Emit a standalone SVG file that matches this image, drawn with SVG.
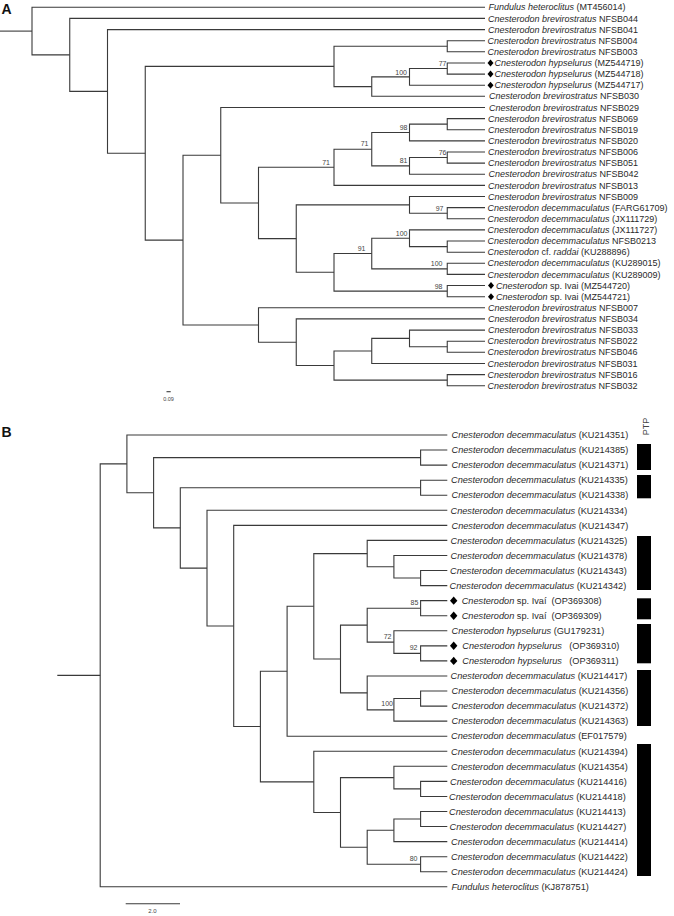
<svg xmlns="http://www.w3.org/2000/svg" width="674" height="916" viewBox="0 0 674 916">
<style>
.br{fill:none;stroke:#3a3a3a;stroke-width:1.1}
.lf{font-family:"Liberation Sans",Arial,sans-serif;font-size:9px;fill:#2a2a2a}
.lfb{font-family:"Liberation Sans",Arial,sans-serif;font-size:9.2px;fill:#2a2a2a}
.it{font-style:italic}
.bs{font-family:"Liberation Sans",Arial,sans-serif;font-size:7px;fill:#444;text-anchor:end}
.pl{font-family:"Liberation Sans",Arial,sans-serif;font-size:14px;font-weight:bold;fill:#111}
.dm{fill:#000}
.bar{fill:#000}
.sc{font-family:"Liberation Sans",Arial,sans-serif;fill:#444;text-anchor:middle}
</style>
<rect width="674" height="916" fill="#fff"/>
<text class="pl" x="1.5" y="13.5">A</text>
<text class="pl" x="1.5" y="436.5">B</text>

<g id="connectors">
<g id="connectors-A">
<path class="br" d="M0 31.1H32"/>
<path class="br" d="M485 7.3H32V54.9H69.75"/>
<path class="br" d="M485 18.4H69.75V91.4H107.5"/>
<path class="br" d="M485 29.6H107.5V153.25H145.25"/>
<path class="br" d="M334 66.4H145.25V240.1H183"/>
<path class="br" d="M447.25 46.25H334V86.6H371.75"/>
<path class="br" d="M485 40.7H447.25V51.8H485"/>
<path class="br" d="M409.5 76.85H371.75V96.3H485"/>
<path class="br" d="M447.25 68.5H409.5V85.2H485"/>
<path class="br" d="M485 63H447.25V74.1H485"/>
<path class="br" d="M220.75 155.2H183V325H258.5"/>
<path class="br" d="M485 107.5H220.75V202.95H258.5"/>
<path class="br" d="M334 167.3H258.5V238.6H296.25"/>
<path class="br" d="M371.75 149.2H334V185.4H485"/>
<path class="br" d="M409.5 132.5H371.75V165.9H409.5"/>
<path class="br" d="M447.25 124.15H409.5V140.9H485"/>
<path class="br" d="M485 118.6H447.25V129.7H485"/>
<path class="br" d="M447.25 157.55H409.5V174.25H485"/>
<path class="br" d="M485 152H447.25V163.1H485"/>
<path class="br" d="M409.5 204.85H296.25V272.3H334"/>
<path class="br" d="M485 196.5H409.5V213.2H447.25"/>
<path class="br" d="M485 207.6H447.25V218.8H485"/>
<path class="br" d="M371.75 253.55H334V291.1H447.25"/>
<path class="br" d="M409.5 238.25H371.75V268.85H447.25"/>
<path class="br" d="M485 229.9H409.5V246.6H447.25"/>
<path class="br" d="M485 241H447.25V252.2H485"/>
<path class="br" d="M485 263.3H447.25V274.4H485"/>
<path class="br" d="M485 285.55H447.25V296.7H485"/>
<path class="br" d="M485 307.8H258.5V342.2H296.25"/>
<path class="br" d="M485 318.9H296.25V365.55H334"/>
<path class="br" d="M371.75 350.95H334V380.15H447.25"/>
<path class="br" d="M409.5 338.4H371.75V363.5H485"/>
<path class="br" d="M485 330.1H409.5V346.75H447.25"/>
<path class="br" d="M485 341.2H447.25V352.3H485"/>
<path class="br" d="M485 374.6H447.25V385.7H485"/>
</g>
<g id="connectors-B">
<path class="br" d="M57.3 675.35H100.2"/>
<path class="br" d="M126.9 463.9H100.2V886.8H447.3"/>
<path class="br" d="M447.3 435H126.9V492.75H153.6"/>
<path class="br" d="M420.6 457.6H153.6V527.9H180.3"/>
<path class="br" d="M447.3 450.06H420.6V465.12H447.3"/>
<path class="br" d="M420.6 487.7H180.3V568.13H207"/>
<path class="br" d="M447.3 480.18H420.6V495.24H447.3"/>
<path class="br" d="M447.3 510.3H207V625.96H233.7"/>
<path class="br" d="M447.3 525.36H233.7V726.55H260.4"/>
<path class="br" d="M287.1 671.25H260.4V781.85H313.8"/>
<path class="br" d="M313.8 606.3H287.1V736.2H447.3"/>
<path class="br" d="M367.2 553.6H313.8V659H340.5"/>
<path class="br" d="M447.3 540.42H367.2V566.78H393.9"/>
<path class="br" d="M447.3 555.48H393.9V578.07H420.6"/>
<path class="br" d="M447.3 570.54H420.6V585.6H447.3"/>
<path class="br" d="M367.2 625.13H340.5V692.9H367.2"/>
<path class="br" d="M420.6 608.19H367.2V642.08H393.9"/>
<path class="br" d="M447.3 600.66H420.6V615.72H447.3"/>
<path class="br" d="M447.3 630.78H393.9V653.37H420.6"/>
<path class="br" d="M447.3 645.84H420.6V660.9H447.3"/>
<path class="br" d="M447.3 675.96H367.2V709.85H393.9"/>
<path class="br" d="M420.6 698.55H393.9V721.14H447.3"/>
<path class="br" d="M447.3 691.02H420.6V706.08H447.3"/>
<path class="br" d="M447.3 751.26H313.8V812.43H340.5"/>
<path class="br" d="M393.9 777.6H340.5V847.26H367.2"/>
<path class="br" d="M447.3 766.32H393.9V788.91H420.6"/>
<path class="br" d="M447.3 781.38H420.6V796.44H447.3"/>
<path class="br" d="M393.9 830.3H367.2V864.21H420.6"/>
<path class="br" d="M420.6 819.03H393.9V841.62H447.3"/>
<path class="br" d="M447.3 811.5H420.6V826.56H447.3"/>
<path class="br" d="M447.3 856.68H420.6V871.74H447.3"/>
</g>
</g>

<g id="support-A">
<text class="bs" x="446.5" y="66">77</text>
<text class="bs" x="407" y="74.6">100</text>
<text class="bs" x="407.5" y="130.2">98</text>
<text class="bs" x="368.5" y="146.2">71</text>
<text class="bs" x="330" y="164.6">71</text>
<text class="bs" x="407.5" y="163.4">81</text>
<text class="bs" x="446.5" y="155.2">76</text>
<text class="bs" x="443.5" y="210.8">97</text>
<text class="bs" x="407.5" y="235.8">100</text>
<text class="bs" x="365.5" y="251">91</text>
<text class="bs" x="442.5" y="266.4">100</text>
<text class="bs" x="442.5" y="288.7">98</text>
</g>
<g id="support-B">
<text class="bs" x="418.3" y="605">85</text>
<text class="bs" x="391.5" y="638.5">72</text>
<text class="bs" x="417.5" y="650">92</text>
<text class="bs" x="393" y="706">100</text>
<text class="bs" x="417.5" y="860.8">80</text>
</g>

<g id="tips-A">
<g id="a0"><text class="lf" x="488.5" y="10.4"><tspan class="it">Fundulus heteroclitus</tspan> (MT456014)</text></g>
<g id="a1"><text class="lf" x="488" y="21.5"><tspan class="it">Cnesterodon brevirostratus</tspan> NFSB044</text></g>
<g id="a2"><text class="lf" x="488" y="32.7"><tspan class="it">Cnesterodon brevirostratus</tspan> NFSB041</text></g>
<g id="a3"><text class="lf" x="487.5" y="43.8"><tspan class="it">Cnesterodon brevirostratus</tspan> NFSB004</text></g>
<g id="a4"><text class="lf" x="487.5" y="54.9"><tspan class="it">Cnesterodon brevirostratus</tspan> NFSB003</text></g>
<g id="a5"><polygon class="dm" points="490.5,59.5 493.5,63 490.5,66.5 487.5,63"/><text class="lf" x="494.5" y="66.1"><tspan class="it">Cnesterodon hypselurus</tspan> (MZ544719)</text></g>
<g id="a6"><polygon class="dm" points="490.5,70.6 493.5,74.1 490.5,77.6 487.5,74.1"/><text class="lf" x="494.5" y="77.2"><tspan class="it">Cnesterodon hypselurus</tspan> (MZ544718)</text></g>
<g id="a7"><polygon class="dm" points="490.5,81.7 493.5,85.2 490.5,88.7 487.5,85.2"/><text class="lf" x="494.5" y="88.3"><tspan class="it">Cnesterodon hypselurus</tspan> (MZ544717)</text></g>
<g id="a8"><text class="lf" x="489" y="99.4"><tspan class="it">Cnesterodon brevirostratus</tspan> NFSB030</text></g>
<g id="a9"><text class="lf" x="489" y="110.6"><tspan class="it">Cnesterodon brevirostratus</tspan> NFSB029</text></g>
<g id="a10"><text class="lf" x="488" y="121.7"><tspan class="it">Cnesterodon brevirostratus</tspan> NFSB069</text></g>
<g id="a11"><text class="lf" x="488" y="132.8"><tspan class="it">Cnesterodon brevirostratus</tspan> NFSB019</text></g>
<g id="a12"><text class="lf" x="488" y="144"><tspan class="it">Cnesterodon brevirostratus</tspan> NFSB020</text></g>
<g id="a13"><text class="lf" x="488" y="155.1"><tspan class="it">Cnesterodon brevirostratus</tspan> NFSB006</text></g>
<g id="a14"><text class="lf" x="488" y="166.2"><tspan class="it">Cnesterodon brevirostratus</tspan> NFSB051</text></g>
<g id="a15"><text class="lf" x="488.5" y="177.4"><tspan class="it">Cnesterodon brevirostratus</tspan> NFSB042</text></g>
<g id="a16"><text class="lf" x="488" y="188.5"><tspan class="it">Cnesterodon brevirostratus</tspan> NFSB013</text></g>
<g id="a17"><text class="lf" x="488" y="199.6"><tspan class="it">Cnesterodon brevirostratus</tspan> NFSB009</text></g>
<g id="a18"><text class="lf" x="487.5" y="210.7"><tspan class="it">Cnesterodon decemmaculatus</tspan> (FARG61709)</text></g>
<g id="a19"><text class="lf" x="487.5" y="221.9"><tspan class="it">Cnesterodon decemmaculatus</tspan> (JX111729)</text></g>
<g id="a20"><text class="lf" x="487.5" y="233"><tspan class="it">Cnesterodon decemmaculatus</tspan> (JX111727)</text></g>
<g id="a21"><text class="lf" x="487.5" y="244.1"><tspan class="it">Cnesterodon decemmaculatus</tspan> NFSB0213</text></g>
<g id="a22"><text class="lf" x="487.5" y="255.3"><tspan class="it">Cnesterodon</tspan> cf. <tspan class="it">raddai</tspan> (KU288896)</text></g>
<g id="a23"><text class="lf" x="487.5" y="266.4"><tspan class="it">Cnesterodon decemmaculatus</tspan> (KU289015)</text></g>
<g id="a24"><text class="lf" x="487.5" y="277.5"><tspan class="it">Cnesterodon decemmaculatus</tspan> (KU289009)</text></g>
<g id="a25"><polygon class="dm" points="491,282 494,285.55 491,289.1 488,285.55"/><text class="lf" x="496" y="288.7"><tspan class="it">Cnesterodon</tspan> sp. Ivai (MZ544720)</text></g>
<g id="a26"><polygon class="dm" points="491,293.2 494,296.7 491,300.2 488,296.7"/><text class="lf" x="496" y="299.8"><tspan class="it">Cnesterodon</tspan> sp. Ivai (MZ544721)</text></g>
<g id="a27"><text class="lf" x="488" y="310.9"><tspan class="it">Cnesterodon brevirostratus</tspan> NFSB007</text></g>
<g id="a28"><text class="lf" x="488" y="322"><tspan class="it">Cnesterodon brevirostratus</tspan> NFSB034</text></g>
<g id="a29"><text class="lf" x="488" y="333.2"><tspan class="it">Cnesterodon brevirostratus</tspan> NFSB033</text></g>
<g id="a30"><text class="lf" x="487.5" y="344.3"><tspan class="it">Cnesterodon brevirostratus</tspan> NFSB022</text></g>
<g id="a31"><text class="lf" x="487.5" y="355.4"><tspan class="it">Cnesterodon brevirostratus</tspan> NFSB046</text></g>
<g id="a32"><text class="lf" x="487.5" y="366.6"><tspan class="it">Cnesterodon brevirostratus</tspan> NFSB031</text></g>
<g id="a33"><text class="lf" x="487.5" y="377.7"><tspan class="it">Cnesterodon brevirostratus</tspan> NFSB016</text></g>
<g id="a34"><text class="lf" x="487.5" y="388.8"><tspan class="it">Cnesterodon brevirostratus</tspan> NFSB032</text></g>
</g>

<g id="scale-A">
<path class="br" d="M166.5 391.7H170.7" stroke-width="0.8"/>
<text class="sc" x="168.5" y="400.5" font-size="5.5">0.09</text>
</g>

<g id="tips-B">
<g id="b0"><text class="lfb" x="451.5" y="438.2"><tspan class="it">Cnesterodon decemmaculatus</tspan> (KU214351)</text></g>
<g id="b1"><text class="lfb" x="451.5" y="453.3"><tspan class="it">Cnesterodon decemmaculatus</tspan> (KU214385)</text></g>
<g id="b2"><text class="lfb" x="451.5" y="468.3"><tspan class="it">Cnesterodon decemmaculatus</tspan> (KU214371)</text></g>
<g id="b3"><text class="lfb" x="451" y="483.4"><tspan class="it">Cnesterodon decemmaculatus</tspan> (KU214335)</text></g>
<g id="b4"><text class="lfb" x="451.5" y="498.4"><tspan class="it">Cnesterodon decemmaculatus</tspan> (KU214338)</text></g>
<g id="b5"><text class="lfb" x="450.5" y="513.5"><tspan class="it">Cnesterodon decemmaculatus</tspan> (KU214334)</text></g>
<g id="b6"><text class="lfb" x="451.5" y="528.6"><tspan class="it">Cnesterodon decemmaculatus</tspan> (KU214347)</text></g>
<g id="b7"><text class="lfb" x="450.5" y="543.6"><tspan class="it">Cnesterodon decemmaculatus</tspan> (KU214325)</text></g>
<g id="b8"><text class="lfb" x="450.5" y="558.7"><tspan class="it">Cnesterodon decemmaculatus</tspan> (KU214378)</text></g>
<g id="b9"><text class="lfb" x="450" y="573.7"><tspan class="it">Cnesterodon decemmaculatus</tspan> (KU214343)</text></g>
<g id="b10"><text class="lfb" x="449.5" y="588.8"><tspan class="it">Cnesterodon decemmaculatus</tspan> (KU214342)</text></g>
<g id="b11"><polygon class="dm" points="453.7,596.5 457.4,600.66 453.7,604.8 450,600.66"/><text class="lfb" x="461.7" y="603.9"><tspan class="it">Cnesterodon</tspan> sp. Ivaí<tspan x="551.5">(OP369308)</tspan></text></g>
<g id="b12"><polygon class="dm" points="453.7,611.5 457.4,615.72 453.7,619.9 450,615.72"/><text class="lfb" x="461.7" y="618.9"><tspan class="it">Cnesterodon</tspan> sp. Ivaí<tspan x="551.5">(OP369309)</tspan></text></g>
<g id="b13"><text class="lfb" x="451.5" y="634"><tspan class="it">Cnesterodon hypselurus</tspan> (GU179231)</text></g>
<g id="b14"><polygon class="dm" points="453.7,641.6 457.4,645.84 453.7,650 450,645.84"/><text class="lfb" x="462.3" y="649"><tspan class="it">Cnesterodon hypselurus</tspan><tspan x="569.3">(OP369310)</tspan></text></g>
<g id="b15"><polygon class="dm" points="453.7,656.7 457.4,660.9 453.7,665.1 450,660.9"/><text class="lfb" x="462.3" y="664.1"><tspan class="it">Cnesterodon hypselurus</tspan><tspan x="569.3">(OP369311)</tspan></text></g>
<g id="b16"><text class="lfb" x="450.5" y="679.2"><tspan class="it">Cnesterodon decemmaculatus</tspan> (KU214417)</text></g>
<g id="b17"><text class="lfb" x="451.5" y="694.2"><tspan class="it">Cnesterodon decemmaculatus</tspan> (KU214356)</text></g>
<g id="b18"><text class="lfb" x="451.5" y="709.3"><tspan class="it">Cnesterodon decemmaculatus</tspan> (KU214372)</text></g>
<g id="b19"><text class="lfb" x="451.5" y="724.3"><tspan class="it">Cnesterodon decemmaculatus</tspan> (KU214363)</text></g>
<g id="b20"><text class="lfb" x="451" y="739.4"><tspan class="it">Cnesterodon decemmaculatus</tspan> (EF017579)</text></g>
<g id="b21"><text class="lfb" x="451" y="754.5"><tspan class="it">Cnesterodon decemmaculatus</tspan> (KU214394)</text></g>
<g id="b22"><text class="lfb" x="451" y="769.5"><tspan class="it">Cnesterodon decemmaculatus</tspan> (KU214354)</text></g>
<g id="b23"><text class="lfb" x="450" y="784.6"><tspan class="it">Cnesterodon decemmaculatus</tspan> (KU214416)</text></g>
<g id="b24"><text class="lfb" x="449" y="799.6"><tspan class="it">Cnesterodon decemmaculatus</tspan> (KU214418)</text></g>
<g id="b25"><text class="lfb" x="449" y="814.7"><tspan class="it">Cnesterodon decemmaculatus</tspan> (KU214413)</text></g>
<g id="b26"><text class="lfb" x="449.5" y="829.8"><tspan class="it">Cnesterodon decemmaculatus</tspan> (KU214427)</text></g>
<g id="b27"><text class="lfb" x="451" y="844.8"><tspan class="it">Cnesterodon decemmaculatus</tspan> (KU214414)</text></g>
<g id="b28"><text class="lfb" x="451" y="859.9"><tspan class="it">Cnesterodon decemmaculatus</tspan> (KU214422)</text></g>
<g id="b29"><text class="lfb" x="451" y="874.9"><tspan class="it">Cnesterodon decemmaculatus</tspan> (KU214424)</text></g>
<g id="b30"><text class="lfb" x="451.5" y="890"><tspan class="it">Fundulus heteroclitus</tspan> (KJ878751)</text></g>
</g>

<g id="ptp">
<text class="sc" x="0" y="0" font-size="9" transform="translate(648.5 426.5) rotate(-90)" fill="#222">PTP</text>
<rect class="bar" x="637" y="444" width="14" height="26"/>
<rect class="bar" x="637" y="475" width="14" height="23.3"/>
<rect class="bar" x="637" y="536" width="14" height="54"/>
<rect class="bar" x="637" y="598.3" width="14" height="21"/>
<rect class="bar" x="637" y="624" width="14" height="39.3"/>
<rect class="bar" x="637" y="670" width="14" height="56"/>
<rect class="bar" x="637" y="744" width="14" height="132"/>
</g>

<g id="scale-B">
<path class="br" d="M125.7 903.7H180"/>
<text class="sc" x="152.5" y="913" font-size="6">2.0</text>
</g>
</svg>
